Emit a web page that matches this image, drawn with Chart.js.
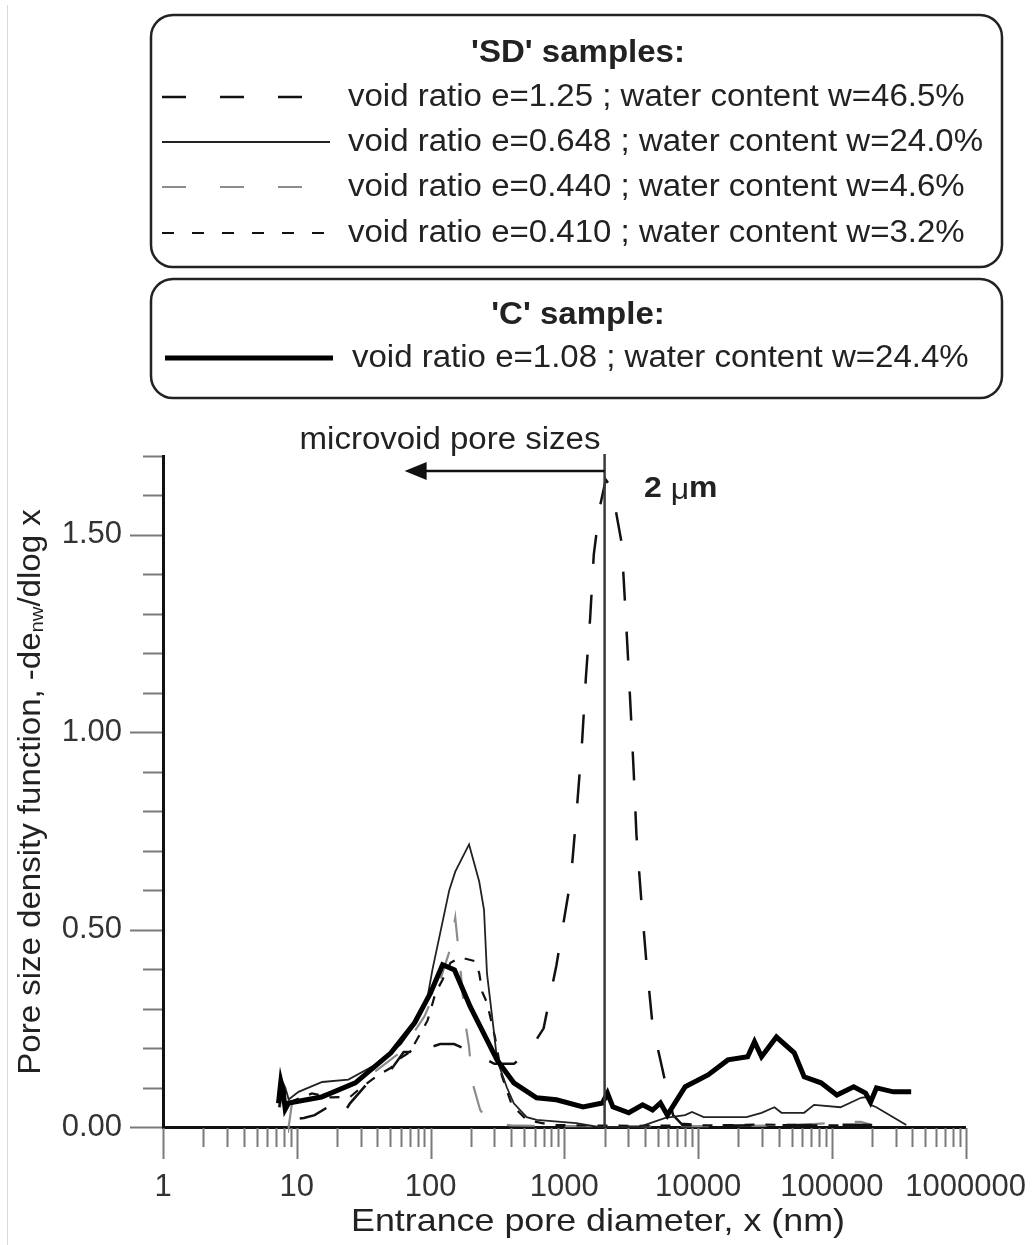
<!DOCTYPE html>
<html>
<head>
<meta charset="utf-8">
<script src="https://cdn.jsdelivr.net/npm/chart.js@4.4.1/dist/chart.umd.min.js"></script>
<style>
    body { margin: 0; background: #ffffff; }
    #wrap { width: 1036px; height: 1245px; position: relative; }
</style>
</head>
<body>
<div id="wrap"><canvas id="poreChart"></canvas></div>
<script>

// ====================== DATA ========================

// 'C' sample: e=1.08 ; w=24.4%
const cX = [7.3, 7.6, 7.9, 8.2, 8.7, 15.3, 27.4, 50.6, 76, 100, 123, 151, 198, 314, 419, 620, 873, 1380, 1930, 2100, 2306, 3030, 3850, 4565, 5230, 5890, 8010, 11860, 16700, 23470, 26400, 29800, 38500, 52300, 62100, 82900, 109000, 145600, 178600, 194500, 215400, 288000, 391500];
const cY = [0.06, 0.115, 0.09, 0.045, 0.061, 0.076, 0.112, 0.188, 0.264, 0.340, 0.411, 0.398, 0.305, 0.170, 0.112, 0.074, 0.069, 0.051, 0.061, 0.086, 0.051, 0.036, 0.056, 0.043, 0.061, 0.030, 0.102, 0.132, 0.170, 0.178, 0.216, 0.178, 0.228, 0.188, 0.127, 0.112, 0.081, 0.102, 0.086, 0.063, 0.099, 0.089, 0.089];

// 'SD' e=1.25 ; w=46.5%
const sd125X = [7.4, 7.7, 8.2, 9.5, 11.3, 13.6, 17, 19, 21.5, 25, 34, 50.6, 63, 70, 85, 95, 118, 150, 205, 300, 420, 540, 700, 873, 1120, 1230, 1360, 1450, 1560, 1660, 1840, 2040, 2250, 2430, 2680, 2840, 2970, 3140, 3300, 3460, 3750, 4100, 4530, 4690, 5300, 5890, 6500, 7500, 12000, 30000, 70000, 150000, 250000];
const sd125Y = [0.05, 0.10, 0.06, 0.02, 0.023, 0.03, 0.05, 0.05, 0.025, 0.06, 0.112, 0.145, 0.19, 0.19, 0.22, 0.20, 0.21, 0.21, 0.19, 0.16, 0.16, 0.19, 0.25, 0.41, 0.63, 0.79, 0.98, 1.14, 1.29, 1.45, 1.57, 1.64, 1.62, 1.56, 1.48, 1.33, 1.21, 1.05, 0.90, 0.74, 0.58, 0.42, 0.27, 0.24, 0.16, 0.09, 0.03, 0.008, 0.004, 0.004, 0.005, 0.006, 0.004];

// 'SD' e=0.648 ; w=24.0%
const sd648X = [7.4, 7.7, 8.2, 8.7, 10.3, 15.5, 24.3, 40, 60, 80, 95, 103.5, 138, 153, 194, 231, 251, 264, 298, 314, 372, 419, 523, 620, 1227, 1800, 3600, 5700, 8000, 9000, 11000, 23000, 29800, 37200, 42000, 62000, 73600, 116000, 165000, 182000, 194500, 215000, 360000];
const sd648Y = [0.07, 0.12, 0.10, 0.07, 0.089, 0.114, 0.12, 0.16, 0.21, 0.27, 0.33, 0.40, 0.60, 0.647, 0.716, 0.622, 0.55, 0.39, 0.24, 0.17, 0.10, 0.06, 0.025, 0.018, 0.01, 0.0, 0.0, 0.023, 0.03, 0.038, 0.025, 0.025, 0.036, 0.05, 0.036, 0.036, 0.056, 0.05, 0.074, 0.076, 0.056, 0.05, 0.005];

// 'SD' e=0.440 ; w=4.6%
const sd440X = [7.5, 7.8, 8.3, 8.7, 9.2, 12, 20, 35, 60, 90, 120, 140, 153, 165, 182, 194, 205, 235, 280, 400, 1000, 3000, 10000, 50000, 130000, 165000, 200000];
const sd440Y = [0.05, 0.10, 0.07, 0.0, 0.06, 0.075, 0.09, 0.13, 0.19, 0.28, 0.38, 0.45, 0.53, 0.42, 0.264, 0.203, 0.114, 0.043, 0.01, 0.004, 0.002, 0.002, 0.002, 0.004, 0.013, 0.013, 0.005];

// 'SD' e=0.410 ; w=3.2%
const sd410X = [7.5, 7.7, 8.2, 8.7, 10, 13, 18, 25, 30, 40, 50.6, 60, 70, 85, 95, 109, 123, 141, 167, 215, 231, 243, 264, 303, 341, 405, 523, 800, 3000, 10000, 30000, 60000, 100000, 200000];
const sd410Y = [0.06, 0.11, 0.09, 0.06, 0.07, 0.085, 0.075, 0.076, 0.099, 0.13, 0.15, 0.175, 0.19, 0.24, 0.27, 0.34, 0.373, 0.416, 0.43, 0.42, 0.39, 0.343, 0.315, 0.228, 0.13, 0.056, 0.018, 0.005, 0.003, 0.004, 0.006, 0.005, 0.004, 0.004];

// Axis ticks
const xMajorTicks = [1, 10, 100, 1000, 10000, 100000, 1000000];
const yTickValues = [0, 0.1, 0.2, 0.3, 0.4, 0.5, 0.6, 0.7, 0.8, 0.9, 1.0, 1.1, 1.2, 1.3, 1.4, 1.5, 1.6, 1.7];
const yLabelValues = [0, 0.5, 1.0, 1.5];

// Annotation: 2 um boundary and the microvoid arrow
const boundaryX = 2000;
const arrowEndX = 64;
const arrowY = 1.662;

// Titles and legend texts
const xTitle = "Entrance pore diameter, x (nm)";
const sdTitle = "'SD' samples:";
const sdLabels = [
    "void ratio e=1.25 ; water content w=46.5%",
    "void ratio e=0.648 ; water content w=24.0%",
    "void ratio e=0.440 ; water content w=4.6%",
    "void ratio e=0.410 ; water content w=3.2%"
];
const cTitle = "'C' sample:";
const cLabel = "void ratio e=1.08 ; water content w=24.4%";


// ====================== STYLE ========================

const FONT = "'Liberation Sans', Arial, sans-serif";
const TEXT_STRETCH = 1.065;
Chart.defaults.font.family = FONT;
Chart.defaults.color = "#333";

const styleC = { color: "#000000", width: 5, dash: [] };
const style125 = { color: "#111111", width: 2.5, dash: [29, 31], legendDash: [24, 34] };
const style648 = { color: "#222222", width: 1.8, dash: [] };
const style440 = { color: "#8c8c8c", width: 2.2, dash: [28, 30], legendDash: [24, 34] };
const style410 = { color: "#111111", width: 2.2, dash: [10, 11], legendDash: [12, 18] };


// Zip x and y arrays into chart points
function ToPoints(xs, ys) {
    return xs.map((x, i) => ({ x: x, y: ys[i] }));
}

function MakeDataset(label, xs, ys, style) {
    return {
        label: label,
        data: ToPoints(xs, ys),
        borderColor: style.color,
        borderWidth: style.width,
        borderDash: style.dash,
        pointRadius: 0,
        tension: 0,
        fill: false,
        clip: 6
    };
}

// Text drawn with a slight horizontal stretch to match the figure
function DrawText(ctx, text, x, y, font, align, stretch) {
    const s = stretch || TEXT_STRETCH;
    ctx.save();
    ctx.font = font;
    ctx.textBaseline = "middle";
    ctx.textAlign = "left";
    const w = ctx.measureText(text).width * s;
    let startX = x;
    if (align === "center") startX = x - w / 2;
    if (align === "right") startX = x - w;
    ctx.translate(startX, y);
    ctx.scale(s, 1);
    ctx.fillText(text, 0, 0);
    ctx.restore();
    return w;
}

function LegendLine(ctx, x1, x2, y, style, dash) {
    ctx.save();
    ctx.strokeStyle = style.color;
    ctx.lineWidth = style.width;
    ctx.setLineDash(dash || []);
    ctx.beginPath();
    ctx.moveTo(x1, y);
    ctx.lineTo(x2, y);
    ctx.stroke();
    ctx.restore();
}

function RoundBox(ctx, x, y, w, h, r) {
    ctx.save();
    ctx.strokeStyle = "#222";
    ctx.lineWidth = 2.5;
    ctx.beginPath();
    ctx.roundRect(x, y, w, h, r);
    ctx.stroke();
    ctx.restore();
}


//====================== PLUGINS ========================

// Legend boxes above the plot
const legendBoxes = {
    id: "legendBoxes",
    afterDraw(chart) {
        const ctx = chart.ctx;
        ctx.fillStyle = "#222";

        // faint frame line on the left edge of the figure
        ctx.save();
        ctx.strokeStyle = "#d9d9d9";
        ctx.lineWidth = 1;
        ctx.beginPath();
        ctx.moveTo(7.5, 5);
        ctx.lineTo(7.5, 1245);
        ctx.stroke();
        ctx.restore();

        RoundBox(ctx, 151, 15, 851, 252, 22);
        DrawText(ctx, sdTitle, 578, 53, "bold 31px " + FONT, "center");
        const rowY = [97, 142, 187, 233];
        const rowStyles = [style125, style648, style440, style410];
        sdLabels.forEach((label, i) => {
            LegendLine(ctx, 162, 330, rowY[i], rowStyles[i], rowStyles[i].legendDash);
            DrawText(ctx, label, 348, rowY[i], "31px " + FONT, "left");
        });

        RoundBox(ctx, 151, 279, 851, 119, 22);
        DrawText(ctx, cTitle, 578, 315, "bold 31px " + FONT, "center");
        LegendLine(ctx, 165, 333, 358, styleC, []);
        DrawText(ctx, cLabel, 352, 358, "31px " + FONT, "left");

        // x axis title
        ctx.fillStyle = "#222";
        DrawText(ctx, xTitle, 598, 1222, "32px " + FONT, "center", 1.12);
    }
};

// Tick marks: long for majors, short for minors
const tickMarks = {
    id: "tickMarks",
    afterDraw(chart) {
        const ctx = chart.ctx;
        const xs = chart.scales.x;
        const ys = chart.scales.y;
        ctx.save();
        ctx.strokeStyle = "#7a7a7a";
        ctx.lineWidth = 2;
        ctx.beginPath();
        xs.ticks.forEach(t => {
            const px = Math.round(xs.getPixelForValue(t.value)) + 0.5;
            const len = xMajorTicks.includes(t.value) ? 32 : 20;
            ctx.moveTo(px, xs.top + 1);
            ctx.lineTo(px, xs.top + len);
        });
        ys.ticks.forEach(t => {
            const py = Math.round(ys.getPixelForValue(t.value)) + 0.5;
            const major = yLabelValues.some(v => Math.abs(v - t.value) < 1e-6);
            const len = major ? 33 : 20;
            ctx.moveTo(ys.right - 1, py);
            ctx.lineTo(ys.right - len, py);
        });
        ctx.stroke();
        ctx.restore();
    }
};

// 2 um line, arrow, and texts; y axis title with subscript
const annotations = {
    id: "annotations",
    afterDatasetsDraw(chart) {
        const ctx = chart.ctx;
        const xs = chart.scales.x;
        const ys = chart.scales.y;
        const bx = xs.getPixelForValue(boundaryX);
        const ay = ys.getPixelForValue(arrowY);
        const ax = xs.getPixelForValue(arrowEndX);

        ctx.save();
        ctx.strokeStyle = "#3a3a3a";
        ctx.lineWidth = 2.5;
        ctx.beginPath();
        ctx.moveTo(bx, ys.getPixelForValue(0));
        ctx.lineTo(bx, ys.getPixelForValue(1.705));
        ctx.stroke();

        ctx.strokeStyle = "#111";
        ctx.beginPath();
        ctx.moveTo(bx, ay);
        ctx.lineTo(ax + 18, ay);
        ctx.stroke();
        ctx.fillStyle = "#111";
        ctx.beginPath();
        ctx.moveTo(ax, ay);
        ctx.lineTo(ax + 22, ay - 9);
        ctx.lineTo(ax + 22, ay + 9);
        ctx.closePath();
        ctx.fill();
        ctx.restore();

        ctx.fillStyle = "#222";
        DrawText(ctx, "microvoid pore sizes", 450, 440, "31px " + FONT, "center");

        // "2 um" label, mu in a lighter weight
        let x = 644;
        x += DrawText(ctx, "2 ", x, 489, "bold 30px " + FONT, "left");
        x += DrawText(ctx, "\u03bc", x, 491, "30px " + FONT, "left");
        DrawText(ctx, "m", x, 489, "bold 30px " + FONT, "left");

        // y axis title, rotated, with subscript "nw"
        ctx.save();
        ctx.translate(31, 792);
        ctx.rotate(-Math.PI / 2);
        ctx.scale(TEXT_STRETCH, 1);
        ctx.textBaseline = "middle";
        ctx.fillStyle = "#222";
        const part1 = "Pore size density function, -de";
        const sub = "nw";
        const part2 = "/dlog x";
        ctx.font = "31px " + FONT;
        const w1 = ctx.measureText(part1).width;
        const w3 = ctx.measureText(part2).width;
        ctx.font = "19px " + FONT;
        const w2 = ctx.measureText(sub).width;
        let sx = -(w1 + w2 + w3) / 2;
        ctx.font = "31px " + FONT;
        ctx.fillText(part1, sx, 0);
        sx += w1;
        ctx.font = "19px " + FONT;
        ctx.fillText(sub, sx, 7);
        sx += w2;
        ctx.font = "31px " + FONT;
        ctx.fillText(part2, sx, 0);
        ctx.restore();
    }
};


//====================== CHART ========================

const ctx = document.getElementById("poreChart").getContext("2d");

const poreChart = new Chart(ctx, {
    type: "line",
    data: {
        datasets: [
            MakeDataset("e=1.08 ; w=24.4%", cX, cY, styleC),
            MakeDataset("e=0.648 ; w=24.0%", sd648X, sd648Y, style648),
            MakeDataset("e=1.25 ; w=46.5%", sd125X, sd125Y, style125),
            MakeDataset("e=0.410 ; w=3.2%", sd410X, sd410Y, style410),
            MakeDataset("e=0.440 ; w=4.6%", sd440X, sd440Y, style440)
        ]
    },
    options: {
        responsive: true,
        maintainAspectRatio: false,
        animation: false,
        layout: {
            padding: { top: 456, right: 65, left: 0, bottom: 0 }
        },
        scales: {
            x: {
                type: "logarithmic",
                min: 1,
                max: 1000000,
                afterBuildTicks(scale) {
                    const ticks = [];
                    xMajorTicks.forEach(m => {
                        if (m === 1000000) { ticks.push({ value: m }); return; }
                        for (let k = 1; k <= 9; k++) ticks.push({ value: m * k });
                    });
                    scale.ticks = ticks;
                },
                afterFit(scale) { scale.height = 118; },
                grid: {
                    display: true,
                    drawOnChartArea: false,
                    drawTicks: true,
                    tickLength: 32,
                    color: "rgba(0,0,0,0)"
                },
                border: { display: true, color: "#111", width: 3 },
                ticks: {
                    autoSkip: false,
                    maxRotation: 0,
                    minRotation: 0,
                    padding: 10,
                    color: "#333",
                    font: { size: 31 },
                    callback: (value) => xMajorTicks.includes(value) ? String(value) : ""
                },
                title: { display: false }
            },
            y: {
                type: "linear",
                min: 0,
                max: 1.7,
                afterBuildTicks(scale) {
                    scale.ticks = yTickValues.map(v => ({ value: v }));
                },
                afterFit(scale) { scale.width = 163; },
                grid: {
                    display: true,
                    drawOnChartArea: false,
                    drawTicks: true,
                    tickLength: 33,
                    color: "rgba(0,0,0,0)"
                },
                border: { display: true, color: "#111", width: 3 },
                ticks: {
                    autoSkip: false,
                    padding: 8,
                    color: "#333",
                    font: { size: 31 },
                    callback: (value) => yLabelValues.some(v => Math.abs(v - value) < 1e-6)
                        ? value.toFixed(2) : ""
                },
                title: { display: false }
            }
        },
        plugins: {
            legend: { display: false },
            tooltip: { enabled: false }
        }
    },
    plugins: [legendBoxes, tickMarks, annotations]
});
</script>
</body>
</html>
